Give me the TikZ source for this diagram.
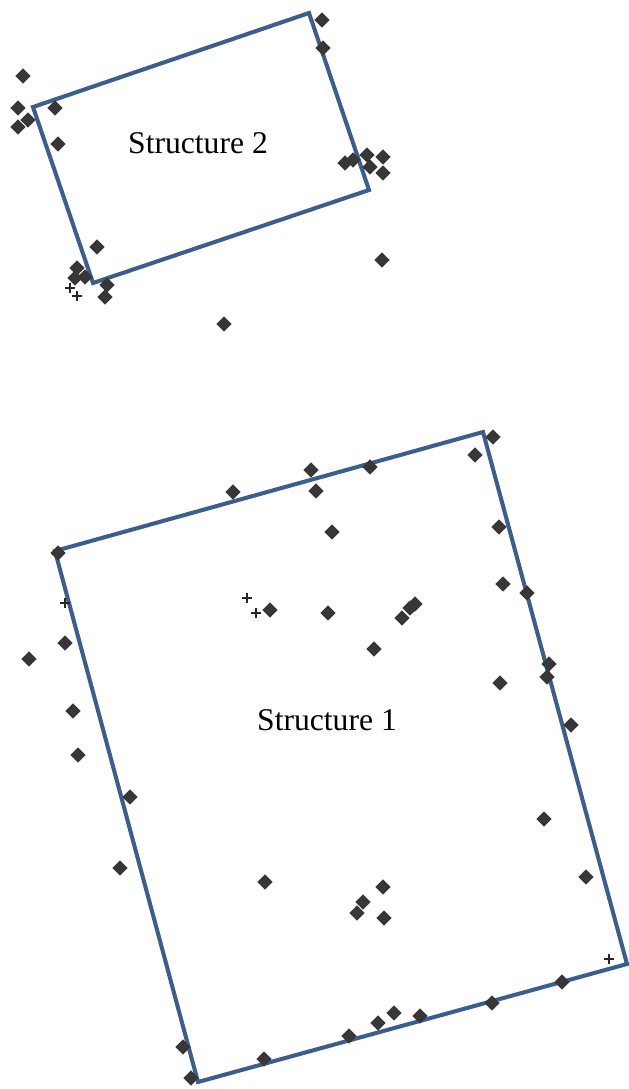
\documentclass[tikz,border=0pt]{standalone}
\usepackage{fontspec}
\setmainfont{Liberation Serif}
\usetikzlibrary{shapes.geometric}
\definecolor{outline}{RGB}{59,94,140}
\definecolor{mark}{RGB}{55,55,55}
\begin{document}
\begin{tikzpicture}[
  x=0.2mm, y=-0.2mm,
  pt/.style={diamond,fill=mark,draw=none,minimum size=3.1mm,inner sep=0pt},
  plus/.style={rectangle,draw=none,minimum size=2mm,inner sep=0pt,
    path picture={\draw[black!85,line width=1.1pt]
      (path picture bounding box.north)--(path picture bounding box.south)
      (path picture bounding box.west)--(path picture bounding box.east);}},
  footprint/.style={draw=outline,line width=2.3pt},
  label/.style={font=\fontsize{18}{20}\selectfont}
]
\useasboundingbox (0,0) rectangle (629,1089);
% structure 2
\coordinate (A) at (33,107);
\coordinate (B) at (309,13);
\coordinate (C) at (369,190);
\coordinate (D) at (93,283);
\draw[footprint] (A)--(B)--(C)--(D)--cycle;
% structure 1
\coordinate (E) at (55,551);
\coordinate (F) at (483,432);
\coordinate (G) at (627,964);
\coordinate (H) at (198,1082);
\draw[footprint] (E)--(F)--(G)--(H)--cycle;
\node[label] (s2) at (198,143) {Structure 2};
\node[label] (s1) at (327,720) {Structure 1};
% points round structure 2
\node[pt] (u1) at (322,20) {};
\node[pt] (u2) at (323,48) {};
\node[pt] (u3) at (23,76) {};
\node[pt] (u4) at (18,108) {};
\node[pt] (u5) at (28,120) {};
\node[pt] (u6) at (18,127) {};
\node[pt] (u7) at (55,108) {};
\node[pt] (u8) at (58,144) {};
\node[pt] (u9) at (345,163) {};
\node[pt] (u10) at (353,160) {};
\node[pt] (u11) at (367,155) {};
\node[pt] (u12) at (370,167) {};
\node[pt] (u13) at (383,157) {};
\node[pt] (u14) at (383,173) {};
\node[pt] (u15) at (97,247) {};
\node[pt] (u16) at (382,260) {};
\node[pt] (u17) at (77,268) {};
\node[pt] (u18) at (75,278) {};
\node[pt] (u19) at (85,277) {};
\node[pt] (u20) at (107,285) {};
\node[pt] (u21) at (105,297) {};
\node[pt] (u22) at (224,324) {};
\node[plus] (x1) at (70,288) {};
\node[plus] (x2) at (77,296) {};
% points round structure 1
\node[pt] (v1) at (233,492) {};
\node[pt] (v2) at (311,470) {};
\node[pt] (v3) at (316,491) {};
\node[pt] (v4) at (370,467) {};
\node[pt] (v5) at (475,455) {};
\node[pt] (v6) at (493,437) {};
\node[pt] (v7) at (332,532) {};
\node[pt] (v8) at (499,527) {};
\node[pt] (v9) at (503,584) {};
\node[pt] (v10) at (527,593) {};
\node[pt] (v11) at (58,553) {};
\node[pt] (v12) at (65,643) {};
\node[pt] (v13) at (29,659) {};
\node[pt] (v14) at (73,711) {};
\node[pt] (v15) at (78,755) {};
\node[pt] (v16) at (130,797) {};
\node[pt] (v17) at (120,868) {};
\node[pt] (v18) at (183,1047) {};
\node[pt] (v19) at (191,1078) {};
\node[pt] (v20) at (270,610) {};
\node[pt] (v21) at (328,613) {};
\node[pt] (v22) at (402,618) {};
\node[pt] (v23) at (410,608) {};
\node[pt] (v24) at (415,604) {};
\node[pt] (v25) at (374,649) {};
\node[pt] (v26) at (500,683) {};
\node[pt] (v27) at (549,664) {};
\node[pt] (v28) at (547,677) {};
\node[pt] (v29) at (571,725) {};
\node[pt] (v30) at (544,819) {};
\node[pt] (v31) at (586,877) {};
\node[pt] (v32) at (265,882) {};
\node[pt] (v33) at (383,887) {};
\node[pt] (v34) at (363,902) {};
\node[pt] (v35) at (357,913) {};
\node[pt] (v36) at (384,918) {};
\node[pt] (v37) at (264,1059) {};
\node[pt] (v38) at (349,1036) {};
\node[pt] (v39) at (378,1023) {};
\node[pt] (v40) at (394,1013) {};
\node[pt] (v41) at (420,1016) {};
\node[pt] (v42) at (492,1003) {};
\node[pt] (v43) at (562,982) {};
\node[plus] (x3) at (247,598) {};
\node[plus] (x4) at (256,613) {};
\node[plus] (x5) at (65,603) {};
\node[plus] (x6) at (609,959) {};
\end{tikzpicture}
\end{document}
